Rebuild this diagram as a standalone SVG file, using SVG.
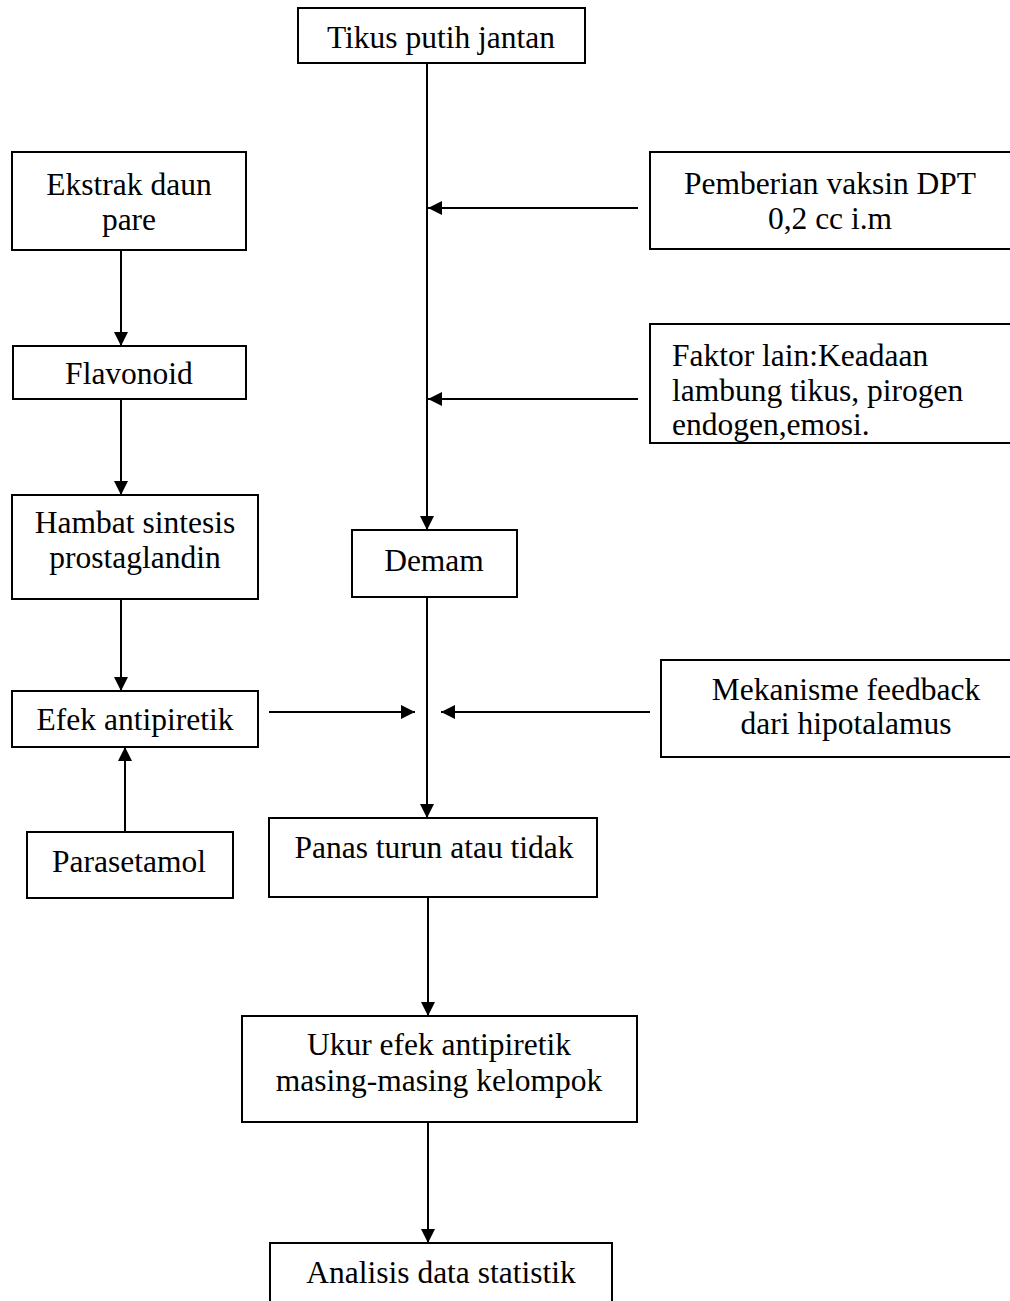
<svg xmlns="http://www.w3.org/2000/svg" width="1010" height="1301" viewBox="0 0 1010 1301">
  <defs>
    <style>
      .box { fill: #ffffff; stroke: #000000; stroke-width: 2; }
      .lbl { font-family: "Liberation Serif", "Times New Roman", serif; font-size: 31.5px; fill: #000000; }
      .c { text-anchor: middle; }
      .edge { fill: none; stroke: #000000; stroke-width: 2; }
    </style>
    <marker id="ah" viewBox="0 0 14 14" refX="14" refY="7" markerWidth="14" markerHeight="14" markerUnits="userSpaceOnUse" orient="auto">
      <path d="M0,0 L14,7 L0,14 Z" fill="#000000"/>
    </marker>
  </defs>
  <rect x="0" y="0" width="1010" height="1301" fill="#ffffff"/>

  <g id="connectors">
    <line class="edge" x1="427" y1="63" x2="427" y2="530" marker-end="url(#ah)"/>
    <line class="edge" x1="427" y1="597" x2="427" y2="818" marker-end="url(#ah)"/>
    <line class="edge" x1="428" y1="897" x2="428" y2="1016" marker-end="url(#ah)"/>
    <line class="edge" x1="428" y1="1122" x2="428" y2="1243" marker-end="url(#ah)"/>
    <line class="edge" x1="638" y1="208" x2="428" y2="208" marker-end="url(#ah)"/>
    <line class="edge" x1="638" y1="399" x2="428" y2="399" marker-end="url(#ah)"/>
    <line class="edge" x1="121" y1="250" x2="121" y2="346" marker-end="url(#ah)"/>
    <line class="edge" x1="121" y1="399" x2="121" y2="495" marker-end="url(#ah)"/>
    <line class="edge" x1="121" y1="599" x2="121" y2="691" marker-end="url(#ah)"/>
    <line class="edge" x1="125" y1="832" x2="125" y2="747" marker-end="url(#ah)"/>
    <line class="edge" x1="269" y1="712" x2="415" y2="712" marker-end="url(#ah)"/>
    <line class="edge" x1="650" y1="712" x2="441" y2="712" marker-end="url(#ah)"/>
  </g>

  <g id="tikus">
    <rect class="box" x="298" y="8" width="287" height="55"/>
    <text class="lbl c" x="441" y="48">Tikus putih jantan</text>
  </g>
  <g id="ekstrak">
    <rect class="box" x="12" y="152" width="234" height="98"/>
    <text class="lbl c" x="129" y="195">Ekstrak daun</text>
    <text class="lbl c" x="129" y="230">pare</text>
  </g>
  <g id="pemberian">
    <rect class="box" x="650" y="152" width="370" height="97"/>
    <text class="lbl c" x="830" y="194">Pemberian vaksin DPT</text>
    <text class="lbl c" x="830" y="229">0,2 cc i.m</text>
  </g>
  <g id="faktor">
    <rect class="box" x="650" y="324" width="370" height="119"/>
    <text class="lbl" x="672" y="366">Faktor lain:Keadaan</text>
    <text class="lbl" x="672" y="401">lambung tikus, pirogen</text>
    <text class="lbl" x="672" y="435">endogen,emosi.</text>
  </g>
  <g id="flavonoid">
    <rect class="box" x="13" y="346" width="233" height="53"/>
    <text class="lbl c" x="129" y="384">Flavonoid</text>
  </g>
  <g id="hambat">
    <rect class="box" x="12" y="495" width="246" height="104"/>
    <text class="lbl c" x="135" y="533">Hambat sintesis</text>
    <text class="lbl c" x="135" y="568">prostaglandin</text>
  </g>
  <g id="demam">
    <rect class="box" x="352" y="530" width="165" height="67"/>
    <text class="lbl c" x="434" y="571">Demam</text>
  </g>
  <g id="efek">
    <rect class="box" x="12" y="691" width="246" height="56"/>
    <text class="lbl c" x="135" y="730">Efek antipiretik</text>
  </g>
  <g id="mekanisme">
    <rect class="box" x="661" y="660" width="370" height="97"/>
    <text class="lbl c" x="846" y="700">Mekanisme feedback</text>
    <text class="lbl c" x="846" y="734">dari hipotalamus</text>
  </g>
  <g id="parasetamol">
    <rect class="box" x="27" y="832" width="206" height="66"/>
    <text class="lbl c" x="129" y="872">Parasetamol</text>
  </g>
  <g id="panas">
    <rect class="box" x="269" y="818" width="328" height="79"/>
    <text class="lbl c" x="434" y="858">Panas turun atau tidak</text>
  </g>
  <g id="ukur">
    <rect class="box" x="242" y="1016" width="395" height="106"/>
    <text class="lbl c" x="439" y="1055">Ukur efek antipiretik</text>
    <text class="lbl c" x="439" y="1091">masing-masing kelompok</text>
  </g>
  <g id="analisis">
    <rect class="box" x="270" y="1243" width="342" height="70"/>
    <text class="lbl c" x="441" y="1283">Analisis data statistik</text>
  </g>
</svg>
